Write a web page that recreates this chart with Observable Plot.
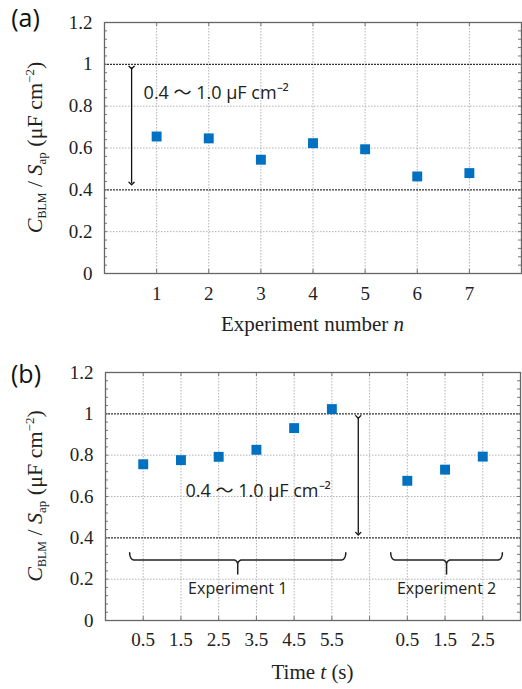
<!DOCTYPE html>
<html><head><meta charset="utf-8">
<script src="https://cdn.jsdelivr.net/npm/d3@7"></script>
<script src="https://cdn.jsdelivr.net/npm/@observablehq/plot@0.6"></script>
<style>body{margin:0;background:#fff} #chart svg{display:block}</style>
</head><body><div id="chart"></div>
<script>
// ---- data ----
const experimentNumbers = [1, 2, 3, 4, 5, 6, 7];
const capacitanceA = [0.655, 0.646, 0.544, 0.623, 0.594, 0.464, 0.480];

const experimentB = [1, 1, 1, 1, 1, 1, 2, 2, 2];
const timeB = [0.5, 1.5, 2.5, 3.5, 4.5, 5.5, 0.5, 1.5, 2.5];
const capacitanceB = [0.756, 0.776, 0.792, 0.826, 0.931, 1.023, 0.676, 0.730, 0.793];

const yTicks = [0, 0.2, 0.4, 0.6, 0.8, 1, 1.2];
const rangeLimits = [0.4, 1.0];
const rangeLabel = "0.4 ～ 1.0 μF cm⁻²";
const groupNames = ["Experiment 1", "Experiment 2"];
const panelLabels = ["(a)", "(b)"];

// ---- helpers ----
const blue = "#0070c0";
const sans = "'Open Sans', 'Noto Sans CJK JP', sans-serif";
const fmtY = d => String(+d.toFixed(1));
const minorY = d3.range(1, 30).map(i => +(i * 0.04).toFixed(2));
const interiorGridY = yTicks.filter(v => v > 0 && v < 1.2 && !rangeLimits.includes(v));

function addText(svg, x, y, parts, opts = {}) {
  const t = d3.select(svg).append("text")
    .attr("font-family", "'Liberation Serif', 'Times New Roman', serif")
    .attr("font-size", opts.size || 21)
    .attr("fill", "#222")
    .attr("text-anchor", "middle")
    .attr("transform", `translate(${x},${y})` + (opts.rotate ? ` rotate(${opts.rotate})` : ""));
  for (const p of parts) {
    const s = t.append("tspan").text(p.text);
    if (p.italic) s.attr("font-style", "italic");
    if (p.size) s.attr("font-size", p.size);
    if (p.dy) s.attr("dy", p.dy);
  }
  return t;
}
function addYTitle(svg, x, y) {
  addText(svg, x, y, [
    {text: "C", italic: true},
    {text: "BLM", size: 12, dy: 4},
    {text: " / ", dy: -4},
    {text: "S", italic: true},
    {text: "ap", size: 13, dy: 4},
    {text: " (μF cm", dy: -4},
    {text: "−2", size: 13, dy: -8},
    {text: ")", dy: 8}
  ], {rotate: -90, size: 22});
}

// brace path points in data space
function bracePoints(x0, x1, name) {
  const yEnd = 0.328, yBar = 0.293, yTip = 0.225;
  const rx = 0.11, ry = yEnd - yBar, ry2 = 0.022;
  const xm = (x0 + x1) / 2;
  const pts = [];
  const N = 8;
  for (let k = 0; k <= N; k++) { const a = k / N * Math.PI / 2; pts.push([x0 + rx - rx * Math.cos(a), yEnd - ry * Math.sin(a)]); }
  for (let k = 0; k <= N; k++) { const a = k / N * Math.PI / 2; pts.push([xm - rx + rx * Math.sin(a), yBar - ry2 + ry2 * Math.cos(a)]); }
  pts.push([xm, yTip]);
  pts.push([xm, yBar - ry2]);
  for (let k = 0; k <= N; k++) { const a = k / N * Math.PI / 2; pts.push([xm + rx - rx * Math.cos(a), yBar - ry2 + ry2 * Math.sin(a)]); }
  for (let k = 0; k <= N; k++) { const a = k / N * Math.PI / 2; pts.push([x1 - rx + rx * Math.sin(a), yEnd - ry * Math.cos(a)]); }
  return pts.map(([x, y]) => ({x, y, name}));
}

const chart = document.getElementById("chart");

// ---- panel (a) ----
{
  const W = 522, H = 340, mL = 104, mR = 1, mT = 22, mB = 67;
  const pw = W - mL - mR, ph = H - mT - mB;
  const idx = d3.range(experimentNumbers.length);
  const svg = Plot.plot({
    width: W, height: H, marginLeft: mL, marginRight: mR, marginTop: mT, marginBottom: mB,
    x: {domain: [0, 8]},
    y: {domain: [0, 1.2]},
    style: {fontFamily: "'Liberation Serif', serif", fontSize: "19px", color: "#222", background: "white"},
    marks: [
      Plot.gridX(experimentNumbers, {stroke: "#aaa", strokeOpacity: 1, strokeDasharray: "1.5,1.5", strokeWidth: 0.9}),
      Plot.gridY(interiorGridY, {stroke: "#aaa", strokeOpacity: 1, strokeDasharray: "1.5,1.5", strokeWidth: 0.9}),
      Plot.ruleY(rangeLimits, {stroke: "#333", strokeDasharray: "2,1", strokeWidth: 1.3}),
      Plot.tickY(minorY, {y: d => d, insetRight: pw - 3, stroke: "#777"}),
      Plot.tickY(minorY, {y: d => d, insetLeft: pw - 3, stroke: "#777"}),
      Plot.tickX(experimentNumbers, {x: d => d, insetBottom: ph - 4, stroke: "#777"}),
      Plot.tickX(experimentNumbers, {x: d => d, insetTop: ph - 4, stroke: "#777"}),
      Plot.frame({stroke: "#666", strokeWidth: 1.3}),
      Plot.axisX(experimentNumbers, {tickSize: 0, tickPadding: 13, label: null}),
      Plot.axisY(yTicks, {tickSize: 0, tickPadding: 12, tickFormat: fmtY, label: null}),
      Plot.link([0], {x1: 0.52, x2: 0.52, y1: rangeLimits[1] - 0.015, y2: rangeLimits[0] + 0.03,
        markerStart: "arrow", markerEnd: "arrow", stroke: "#111", strokeWidth: 1.3}),
      Plot.text([rangeLabel], {x: 0.75, y: 0.86, text: d => d, textAnchor: "start",
        fontFamily: sans, fontSize: 18, fill: "#222"}),
      Plot.dot(idx, {x: i => experimentNumbers[i], y: i => capacitanceA[i], symbol: "square", r: 5.6, fill: blue}),
      Plot.text([panelLabels[0]], {frameAnchor: "top-left", textAnchor: "middle", lineAnchor: "middle",
        dx: -79, dy: -4, text: d => d, fontFamily: sans, fontSize: 25, fill: "#111"})
    ]
  });
  addYTitle(svg, 42, mT + ph / 2);
  addText(svg, mL + pw / 2, 331, [{text: "Experiment number "}, {text: "n", italic: true}]);
  chart.appendChild(svg);
}

// ---- panel (b) ----
{
  const W = 522, H = 349, mL = 105, mR = 2, mT = 32, mB = 69;
  const pw = W - mL - mR, ph = H - mT - mB;
  const groupOffset = {1: 0.5, 2: 7.5};
  const slot = i => timeB[i] + groupOffset[experimentB[i]];
  const idx = d3.range(timeB.length);
  const slots = idx.map(slot);
  const labelOf = new Map(idx.map(i => [slots[i], String(timeB[i])]));
  const gridSlots = d3.range(1, 11);
  const braceSpans = [[0.64, 6.37], [7.56, 10.52]];
  const braces = braceSpans.flatMap(([a, b], i) => bracePoints(a, b, groupNames[i]));
  const svg = Plot.plot({
    width: W, height: H, marginLeft: mL, marginRight: mR, marginTop: mT, marginBottom: mB,
    x: {domain: [0, 11]},
    y: {domain: [0, 1.2]},
    style: {fontFamily: "'Liberation Serif', serif", fontSize: "19px", color: "#222", background: "white"},
    marks: [
      Plot.gridX(gridSlots, {stroke: "#aaa", strokeOpacity: 1, strokeDasharray: "1.5,1.5", strokeWidth: 0.9}),
      Plot.gridY(interiorGridY, {stroke: "#aaa", strokeOpacity: 1, strokeDasharray: "1.5,1.5", strokeWidth: 0.9}),
      Plot.ruleY(rangeLimits, {stroke: "#333", strokeDasharray: "2,1", strokeWidth: 1.3}),
      Plot.tickY(minorY, {y: d => d, insetRight: pw - 3, stroke: "#777"}),
      Plot.tickY(minorY, {y: d => d, insetLeft: pw - 3, stroke: "#777"}),
      Plot.tickX(gridSlots, {x: d => d, insetBottom: ph - 4, stroke: "#777"}),
      Plot.tickX(gridSlots, {x: d => d, insetTop: ph - 4, stroke: "#777"}),
      Plot.frame({stroke: "#666", strokeWidth: 1.3}),
      Plot.axisX(slots, {tickSize: 0, tickPadding: 12, tickFormat: d => labelOf.get(d), label: null}),
      Plot.axisY(yTicks, {tickSize: 0, tickPadding: 12, tickFormat: fmtY, label: null}),
      Plot.link([0], {x1: 6.7, x2: 6.7, y1: rangeLimits[1] - 0.015, y2: rangeLimits[0] + 0.02,
        markerStart: "arrow", markerEnd: "arrow", stroke: "#111", strokeWidth: 1.3}),
      Plot.text([rangeLabel], {x: 2.12, y: 0.627, text: d => d, textAnchor: "start",
        fontFamily: sans, fontSize: 18, fill: "#222"}),
      Plot.line(braces, {x: "x", y: "y", z: "name", stroke: "#222", strokeWidth: 1.5, curve: "linear"}),
      Plot.text(groupNames, {x: (d, i) => (braceSpans[i][0] + braceSpans[i][1]) / 2, y: 0.153, text: d => d,
        fontFamily: sans, fontSize: 16, fill: "#222"}),
      Plot.dot(idx, {x: slot, y: i => capacitanceB[i], symbol: "square", r: 5.6, fill: blue}),
      Plot.text([panelLabels[1]], {frameAnchor: "top-left", textAnchor: "middle", lineAnchor: "middle",
        dx: -79.5, dy: 2, text: d => d, fontFamily: sans, fontSize: 25, fill: "#111"})
    ]
  });
  addYTitle(svg, 42, mT + ph / 2);
  addText(svg, mL + pw / 2, 339, [{text: "Time "}, {text: "t", italic: true}, {text: " (s)"}]);
  chart.appendChild(svg);
}
</script>
</body></html>
